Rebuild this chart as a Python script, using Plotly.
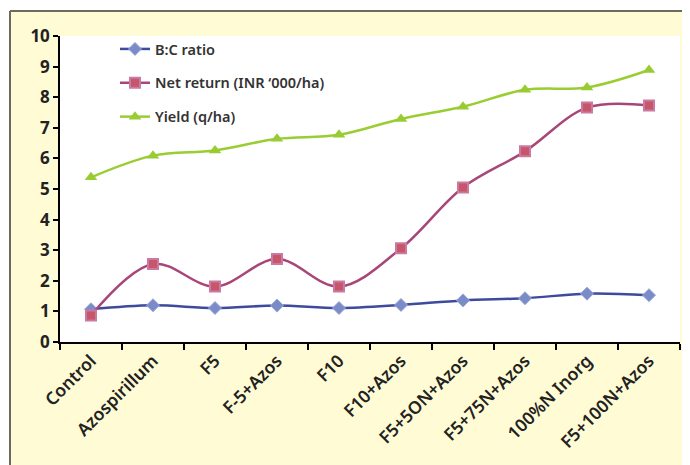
import plotly.graph_objects as go

categories = ["Control", "Azospirillum", "F5", "F-5+Azos", "F10", "F10+Azos",
              "F5+5ON+Azos", "F5+75N+Azos", "100%N Inorg", "F5+100N+Azos"]
bc_ratio = [1.07, 1.20, 1.11, 1.19, 1.11, 1.21, 1.36, 1.43, 1.58, 1.53]
net_return = [0.87, 2.55, 1.81, 2.71, 1.81, 3.06, 5.05, 6.23, 7.66, 7.73]
yield_qha = [5.38, 6.09, 6.26, 6.64, 6.77, 7.29, 7.69, 8.24, 8.32, 8.89]
y_ticks = list(range(0, 11))

FONT = "Noto Sans"

fig = go.Figure()
fig.add_trace(go.Scatter(
    x=categories, y=bc_ratio, name="B:C ratio", mode="lines+markers",
    line=dict(color="#3D4A9E", width=2.5, shape="spline", smoothing=1),
    marker=dict(symbol="diamond", size=10, color="#7A8CC8",
                line=dict(color="#9AA6D8", width=1)),
    legendgroup="a"))
fig.add_trace(go.Scatter(
    x=categories, y=net_return, name="Net return (INR ‘000/ha)", mode="lines+markers",
    line=dict(color="#A8467A", width=2.5, shape="spline", smoothing=1),
    marker=dict(symbol="square", size=10, color="#C8566A",
                line=dict(color="#C97AA2", width=2)),
    legendgroup="b"))
fig.add_trace(go.Scatter(
    x=categories, y=yield_qha, name="Yield (q/ha)", mode="lines+markers",
    line=dict(color="#9ACD32", width=2.5, shape="spline", smoothing=1),
    marker=dict(symbol="triangle-up", size=11, color="#99CC33"),
    legendgroup="c"))

# page body has an 8px offset; work in reference pixel coordinates
OFF = 8
W, H = 690 - OFF, 465 - OFF
L, R, T, B = 60 - OFF, 690 - 680, 36 - OFF, 465 - 342
pw, ph = W - L - R, H - T - B

def px_x(p):
    return (p - OFF - L) / pw

def px_y(p):
    return (H - B - (p - OFF)) / ph

shapes = [
    dict(type="rect", xref="paper", yref="paper", x0=px_x(10), x1=px_x(700),
         y0=px_y(11), y1=px_y(480), fillcolor="#FFFBD5", line=dict(width=0), layer="below"),
    dict(type="rect", xref="paper", yref="paper", x0=0, x1=1, y0=0, y1=1,
         fillcolor="white", line=dict(width=0), layer="below"),
    dict(type="line", xref="paper", yref="paper", x0=px_x(10), x1=px_x(700),
         y0=px_y(11), y1=px_y(11), line=dict(color="#6B6A5E", width=2)),
    dict(type="line", xref="paper", yref="paper", x0=px_x(10), x1=px_x(10),
         y0=px_y(11), y1=px_y(480), line=dict(color="#6B6A5E", width=2)),
]

fig.update_layout(
    width=W, height=H,
    margin=dict(l=L, r=R, t=T, b=B, autoexpand=False),
    paper_bgcolor="white",
    plot_bgcolor="rgba(0,0,0,0)",
    shapes=shapes,
    font=dict(family=FONT, color="#222222"),
    showlegend=True,
    legend=dict(x=px_x(115), y=px_y(33), xanchor="left", yanchor="top",
                bgcolor="rgba(0,0,0,0)", borderwidth=0,
                font=dict(family=FONT, size=14.5, color="#333333", weight=600),
                traceorder="grouped", tracegroupgap=12),
    xaxis=dict(
        type="category", categoryorder="array", categoryarray=categories,
        tickangle=-45, tickson="boundaries", ticks="outside", ticklen=6,
        tickcolor="black", tickwidth=1.5, automargin=False,
        showline=True, linecolor="black", linewidth=1.5, showgrid=False,
        tickfont=dict(family=FONT, size=17.5, color="#222222", weight=600),
        range=[-0.5, 9.5], zeroline=False),
    yaxis=dict(
        range=[0, 10], tickvals=y_ticks, ticks="outside", ticklen=5,
        tickcolor="black", tickwidth=1.5, automargin=False,
        showline=True, linecolor="black", linewidth=1.5, showgrid=False,
        zeroline=False,
        tickfont=dict(family=FONT, size=17, color="#222222", weight="bold")),
)

fig.write_html("out.html")
